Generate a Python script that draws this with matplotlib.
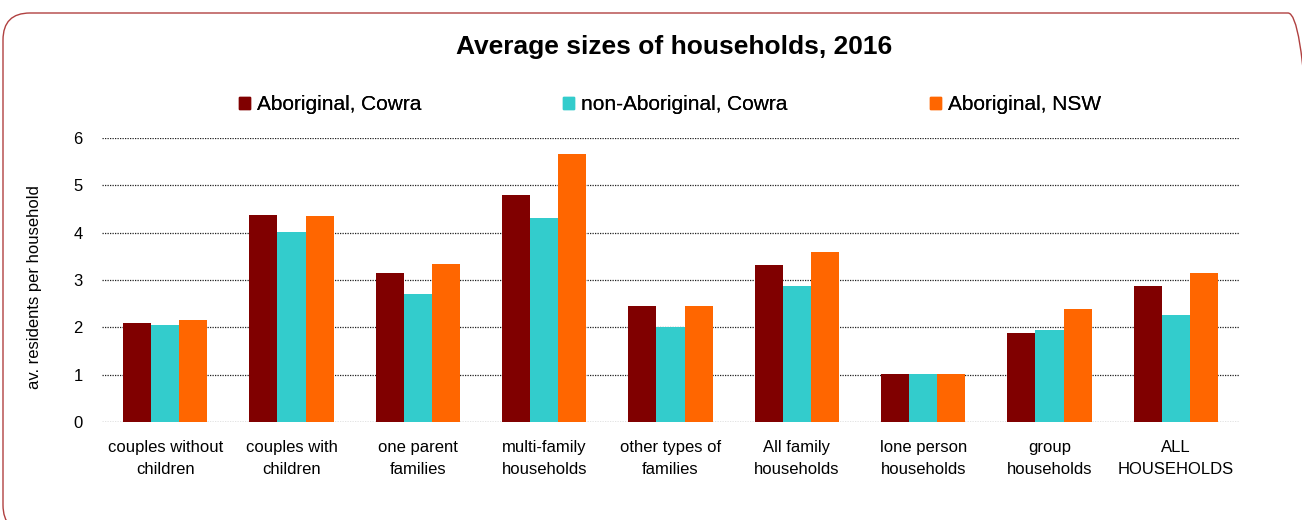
import matplotlib
matplotlib.use("Agg")
import matplotlib.pyplot as plt
import matplotlib.patches as mpatches
from matplotlib.transforms import IdentityTransform
import numpy as np

categories = ["couples without\nchildren", "couples with\nchildren", "one parent\nfamilies",
              "multi-family\nhouseholds", "other types of\nfamilies", "All family\nhouseholds",
              "lone person\nhouseholds", "group\nhouseholds", "ALL\nHOUSEHOLDS"]
series_names = ["Aboriginal, Cowra", "non-Aboriginal, Cowra", "Aboriginal, NSW"]
aboriginal_cowra = [2.09, 4.37, 3.15, 4.80, 2.46, 3.32, 1.01, 1.89, 2.88]
non_aboriginal_cowra = [2.04, 4.01, 2.71, 4.31, 2.01, 2.87, 1.01, 1.94, 2.26]
aboriginal_nsw = [2.15, 4.35, 3.34, 5.67, 2.45, 3.59, 1.01, 2.39, 3.15]
colors = ["#800000", "#33CCCC", "#FF6600"]
yticks = [0, 1, 2, 3, 4, 5, 6]

plt.rcParams['font.family'] = ['Liberation Sans', 'DejaVu Sans']

W, H = 1302, 520
fig = plt.figure(figsize=(W / 100, H / 100), dpi=100)
fig.patch.set_facecolor("white")

# rounded border (pixel coordinates, origin bottom-left)
border = mpatches.FancyBboxPatch((3, -12), 1312, 519,
                                 boxstyle="round,pad=0,rounding_size=27",
                                 transform=IdentityTransform(), facecolor="none",
                                 edgecolor="#B04040", linewidth=1.0)
fig.add_artist(border)

ax = fig.add_axes([102 / W, 1 - 422 / H, (1239 - 102) / W, (422 - 138) / H])
x = np.arange(len(categories))
bw = 0.222
data = [aboriginal_cowra, non_aboriginal_cowra, aboriginal_nsw]
handles = []
for i, (vals, c, name) in enumerate(zip(data, colors, series_names)):
    ax.bar(x + (i - 1) * bw, vals, width=bw, color=c, label=name, zorder=3)
    handles.append(mpatches.Patch(color=c, label=name))

ax.set_xlim(-0.5, len(categories) - 0.5)
ax.set_ylim(0, 6)
ax.set_yticks(yticks)
ax.set_xticks(x)
ax.set_xticklabels(categories, linespacing=1.62)
ax.tick_params(axis='both', length=0, labelsize=12, colors="#000000")
ax.tick_params(axis='y', pad=14)
ax.tick_params(axis='x', pad=13)
for s in ax.spines.values():
    s.set_visible(False)
ax.yaxis.grid(True, linestyle=(0, (1, 1)), color="#202020", linewidth=0.9, zorder=0)
ax.set_axisbelow(True)
ax.set_ylabel("av. residents per household", fontsize=12)
ax.yaxis.set_label_coords((42 - 102) / 1137, (422 - 287) / 284)

fig.text(674 / W, 1 - 47 / H, "Average sizes of households, 2016",
         ha="center", va="center", fontsize=19, fontweight="bold")

leg_x = [239, 563, 930]
for h, lx in zip(handles, leg_x):
    lg = fig.legend(handles=[h], loc="center left", bbox_to_anchor=(lx / W, 1 - 105 / H),
                    frameon=False, fontsize=15, handlelength=0.55, handleheight=0.55,
                    handletextpad=0.3, borderpad=0, borderaxespad=0)
    fig.add_artist(lg)

fig.savefig("out.png", dpi=100)
